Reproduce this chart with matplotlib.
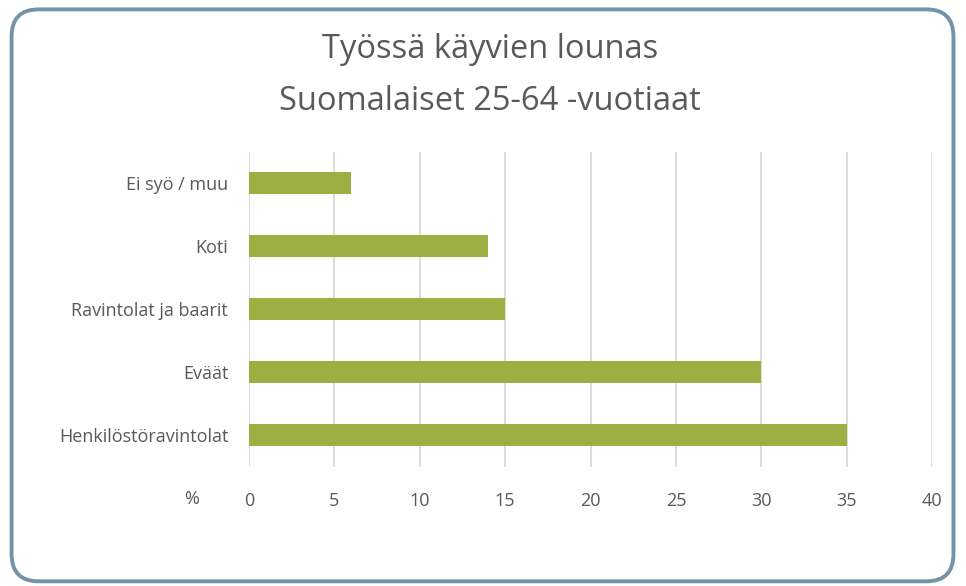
import matplotlib.pyplot as plt
from matplotlib.patches import FancyBboxPatch

# Data
categories = ["Henkilöstöravintolat", "Eväät", "Ravintolat ja baarit", "Koti", "Ei syö / muu"]
values = [35, 30, 15, 14, 6]
xticks = [0, 5, 10, 15, 20, 25, 30, 35, 40]

TEXT = "#595959"
BAR = "#9DAF42"

plt.rcParams['font.family'] = ['Open Sans', 'DejaVu Sans']

fig = plt.figure(figsize=(9.66, 5.86), dpi=100)

# rounded border
border = FancyBboxPatch((0.012, 0.008), 0.975, 0.976,
                        boxstyle="round,pad=0,rounding_size=0.028",
                        transform=fig.transFigure, fill=False,
                        edgecolor="#7393A7", linewidth=2.8, mutation_aspect=966 / 586)
fig.patches.append(border)

ax = fig.add_axes([0.2578, 0.2039, 0.707, 0.5367])
ax.barh(range(len(categories)), values, height=0.35, color=BAR, zorder=3)
ax.set_xlim(0, 40)
ax.set_ylim(-0.5, len(categories) - 0.5)
ax.set_xticks(xticks)
ax.set_yticks(range(len(categories)))
ax.set_yticklabels(categories)
ax.grid(axis="x", color="#D9D9D9", linewidth=1.3, zorder=0)
for s in ax.spines.values():
    s.set_visible(False)
ax.tick_params(length=0, labelsize=13, colors=TEXT)
ax.tick_params(axis="x", pad=18)
ax.tick_params(axis="y", pad=15)

fig.text(192 / 966, 1 - 499 / 586, "%", ha="center", va="center", fontsize=13, color=TEXT)
fig.text(490 / 966, 1 - 49 / 586, "Työssä käyvien lounas", ha="center", va="center",
         fontsize=23.5, color=TEXT)
fig.text(490 / 966, 1 - 101 / 586, "Suomalaiset 25-64 -vuotiaat", ha="center", va="center",
         fontsize=23.5, color=TEXT)

fig.savefig("out.png", dpi=100)
